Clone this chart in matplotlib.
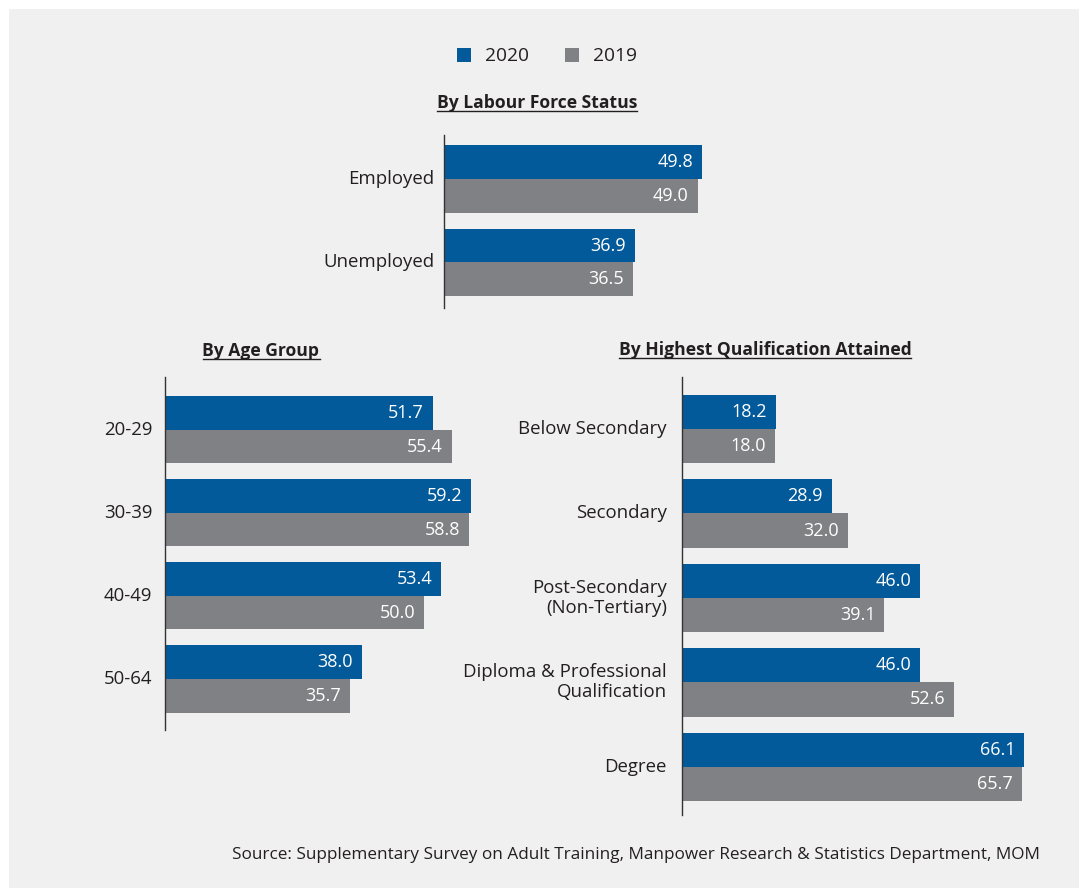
import matplotlib
matplotlib.use("Agg")
import matplotlib.pyplot as plt
from matplotlib.lines import Line2D
from matplotlib.patches import Rectangle

# ---- data ----
years = ["2020", "2019"]

lfs_categories = ["Employed", "Unemployed"]
lfs_2020 = [49.8, 36.9]
lfs_2019 = [49.0, 36.5]

age_categories = ["20-29", "30-39", "40-49", "50-64"]
age_2020 = [51.7, 59.2, 53.4, 38.0]
age_2019 = [55.4, 58.8, 50.0, 35.7]

qual_categories = ["Below Secondary", "Secondary", "Post-Secondary\n(Non-Tertiary)",
                   "Diploma & Professional\nQualification", "Degree"]
qual_2020 = [18.2, 28.9, 46.0, 46.0, 66.1]
qual_2019 = [18.0, 32.0, 39.1, 52.6, 65.7]

titles = ["By Labour Force Status", "By Age Group", "By Highest Qualification Attained"]
source_text = "Source: Supplementary Survey on Adult Training, Manpower Research & Statistics Department, MOM"

# ---- styling ----
BLUE = "#035a9a"
GREY = "#808184"
BG = "#f0f0f0"
TXT = "#231f20"
FONT = ["Open Sans", "DejaVu Sans"]
plt.rcParams["font.family"] = FONT

W, H = 1079, 888
fig = plt.figure(figsize=(W / 100, H / 100), dpi=100)
fig.patch.set_facecolor("white")
fig.add_artist(Rectangle((9 / W, 0), 1, 1 - 9 / H, transform=fig.transFigure,
                         facecolor=BG, edgecolor="none", zorder=-10))

PX_PER_UNIT = 5.175   # horizontal scale shared by all three panels
BAR_H = 0.405


def px_axes(x0, y0, x1, y1):
    """Axes placed by pixel box (top-left origin)."""
    ax = fig.add_axes([x0 / W, 1 - y1 / H, (x1 - x0) / W, (y1 - y0) / H])
    ax.set_facecolor("none")
    return ax


def panel(ax, cats, v20, v19, top_pad, bot_pad, width_px, label_pad):
    n = len(cats)
    pos = list(range(n))
    ax.barh([p - BAR_H / 2 for p in pos], v20, height=BAR_H, color=BLUE, edgecolor="none")
    ax.barh([p + BAR_H / 2 for p in pos], v19, height=BAR_H, color=GREY, edgecolor="none")
    for p, a, b in zip(pos, v20, v19):
        ax.text(a - 1.7, p - BAR_H / 2, f"{a:.1f}", ha="right", va="center",
                color="white", fontsize=13)
        ax.text(b - 1.7, p + BAR_H / 2, f"{b:.1f}", ha="right", va="center",
                color="white", fontsize=13)
    ax.set_ylim(n - 1 + bot_pad, -top_pad)
    ax.set_xlim(0, width_px / PX_PER_UNIT)
    ax.set_yticks(pos)
    ax.set_yticklabels(cats, fontsize=13.4, color=TXT, linespacing=1.15, va="center")
    ax.tick_params(axis="y", length=0, pad=label_pad)
    ax.set_xticks([])
    for s in ["top", "right", "bottom"]:
        ax.spines[s].set_visible(False)
    ax.spines["left"].set_color("#333333")
    ax.spines["left"].set_linewidth(1.0)


ax1 = px_axes(444, 135, 760, 308)
panel(ax1, lfs_categories, lfs_2020, lfs_2019, 0.527, 0.545, 316, 7)

ax2 = px_axes(165, 377, 500, 730)
panel(ax2, age_categories, age_2020, age_2019, 0.635, 0.615, 335, 9)

ax3 = px_axes(682, 377, 1060, 815)
panel(ax3, qual_categories, qual_2020, qual_2019, 0.615, 0.57, 378, 11)

# ---- legend ----
for (x, label, col) in [(457, years[0], BLUE), (565, years[1], GREY)]:
    fig.add_artist(Rectangle((x / W, 1 - 62 / H), 14 / W, 14 / H, transform=fig.transFigure,
                             facecolor=col, edgecolor="none"))
    fig.text((x + 28) / W, 1 - 56 / H, label, ha="left", va="center",
             fontsize=13.8, color=TXT)

# ---- underlined section titles ----
title_pos = [(537, 103), (261, 351), (765, 350)]
title_objs = []
for t, (x, y) in zip(titles, title_pos):
    title_objs.append(fig.text(x / W, 1 - y / H, t, ha="center", va="center",
                               fontsize=12.6, fontweight="bold", color=TXT))

fig.canvas.draw()
renderer = fig.canvas.get_renderer()
for t in title_objs:
    bb = t.get_window_extent(renderer)
    yline = bb.y0 + 1
    fig.add_artist(Line2D([bb.x0 / W, bb.x1 / W], [yline / H, yline / H],
                          transform=fig.transFigure, color=TXT, linewidth=1.0))

# ---- source note ----
fig.text(1040 / W, 1 - 855 / H, source_text, ha="right", va="center",
         fontsize=12.3, color=TXT)

fig.savefig("out.png", dpi=100, facecolor=fig.get_facecolor())
